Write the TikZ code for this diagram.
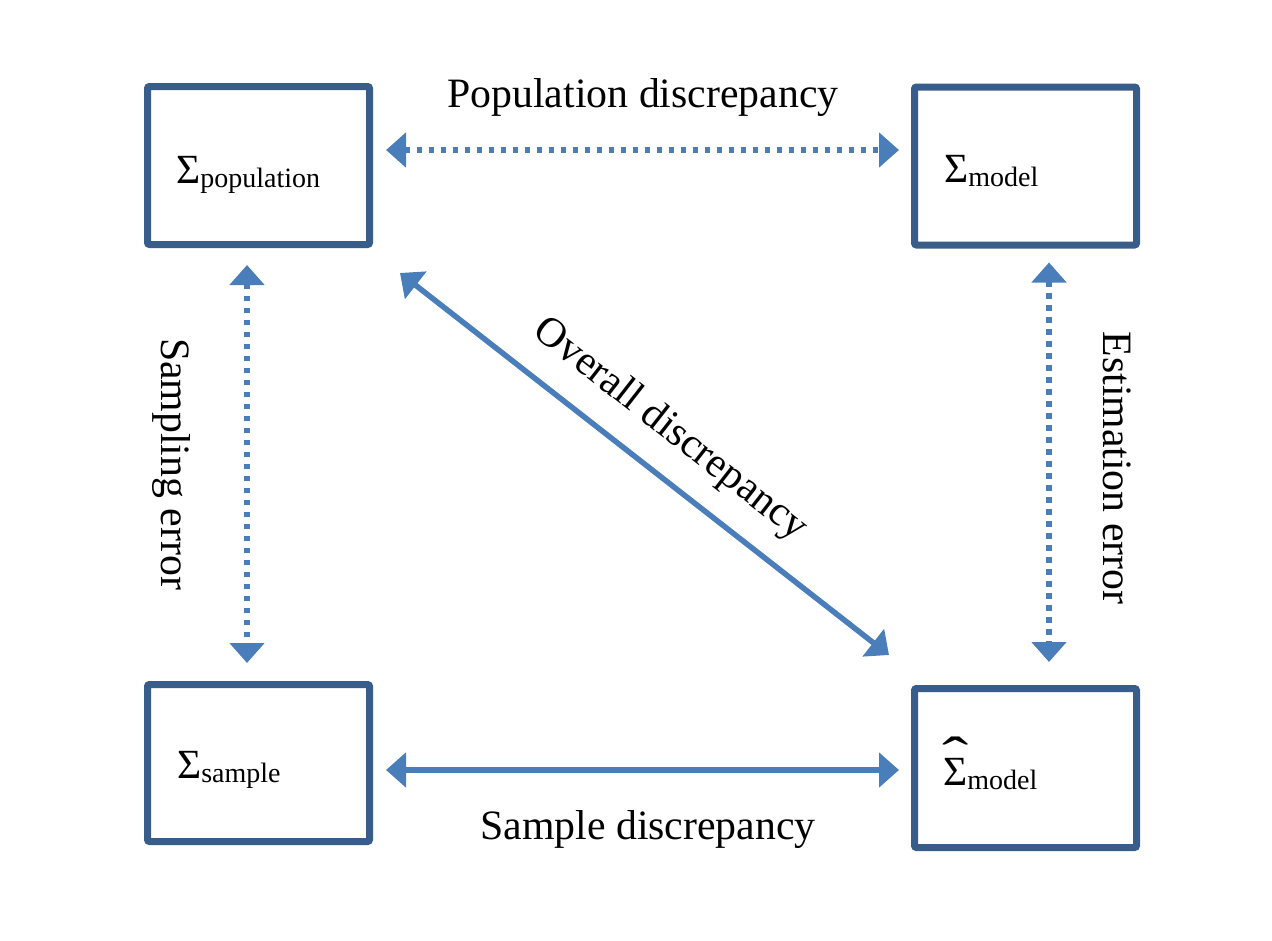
\documentclass[tikz,border=0pt]{standalone}
\usepackage{fontspec}
\setmainfont{Liberation Serif}
\usepackage{graphicx}
\usetikzlibrary{arrows.meta}
\definecolor{boxblue}{HTML}{385D8A}
\definecolor{arrblue}{HTML}{4A7EBB}
\newcommand{\hatsig}{{\setbox0\hbox{Σ}\rlap{\hbox to\wd0{\hss\raisebox{11pt}{\scalebox{1.9}[1.3]{ˆ}}\hss}}Σ}}
\newcommand{\subtxt}[1]{\raisebox{-4pt}{\fontsize{28}{30}\selectfont #1}}
\tikzset{
  bx/.style={draw=boxblue, line width=7pt, rounded corners=2pt, fill=white,
    minimum width=222pt, inner sep=0pt},
  lbl/.style={font=\fontsize{41.8}{45}\selectfont, inner sep=0pt},
  sig/.style={font=\fontsize{41.5}{45}\selectfont, inner sep=0pt, anchor=base west},
  conn/.style={arrblue, line width=5.5pt,
    {Triangle[length=20pt,width=34pt]}-{Triangle[length=20pt,width=34pt]}},
  dotc/.style={conn, dash pattern=on 5.5pt off 6.5pt}
}
\begin{document}
\begin{tikzpicture}[x=1pt,y=-1pt]
\useasboundingbox (0,0) rectangle (1272,940);
% boxes
\node[bx, minimum height=158pt] (TL) at (258.5,165.5) {};
\node[bx, minimum height=158pt] (TR) at (1025.5,166) {};
\node[bx, minimum height=157pt] (BL) at (258.5,763) {};
\node[bx, minimum height=159pt] (BR) at (1025.5,768) {};
% box texts
\node[sig] (tTL) at (176,183) {Σ\subtxt{population}};
\node[sig] (tTR) at (944,182) {Σ\subtxt{model}};
\node[sig] (tBL) at (177,778) {Σ\subtxt{sample}};
\node[sig] (tBR) at (943,785) {\hatsig\subtxt{model}};
% connectors
\draw[dotc, shorten <=13pt, shorten >=12pt] ([yshift=15.5pt]TL.east) -- ([yshift=16pt]TR.west);
\draw[conn, shorten <=13pt, shorten >=12pt] ([yshift=-7pt]BL.east) -- ([yshift=-2pt]BR.west);
\draw[dotc, shorten <=17pt, shorten >=18pt] ([xshift=-11.5pt]TL.south) -- ([xshift=-11.5pt]BL.north);
\draw[dotc, shorten <=14pt, shorten >=23pt] ([xshift=23.5pt]TR.south) -- ([xshift=23.5pt]BR.north);
\draw[conn] ([shift={(27,25)}]TL.south east) -- ([shift={(-22,-30)}]BR.north west);
% labels
\node[lbl, anchor=base] (lPop) at (643,107) {Population discrepancy};
\node[lbl, anchor=base] (lSam) at (648,839) {Sample discrepancy};
\node[lbl, anchor=base, rotate=-90] (lSE) at (161,464) {Sampling error};
\node[lbl, anchor=base, rotate=-90] (lEE) at (1103,468) {Estimation error};
\node[lbl, anchor=base, rotate=-38] (lOD) at (664,438) {Overall discrepancy};
\end{tikzpicture}
\end{document}
